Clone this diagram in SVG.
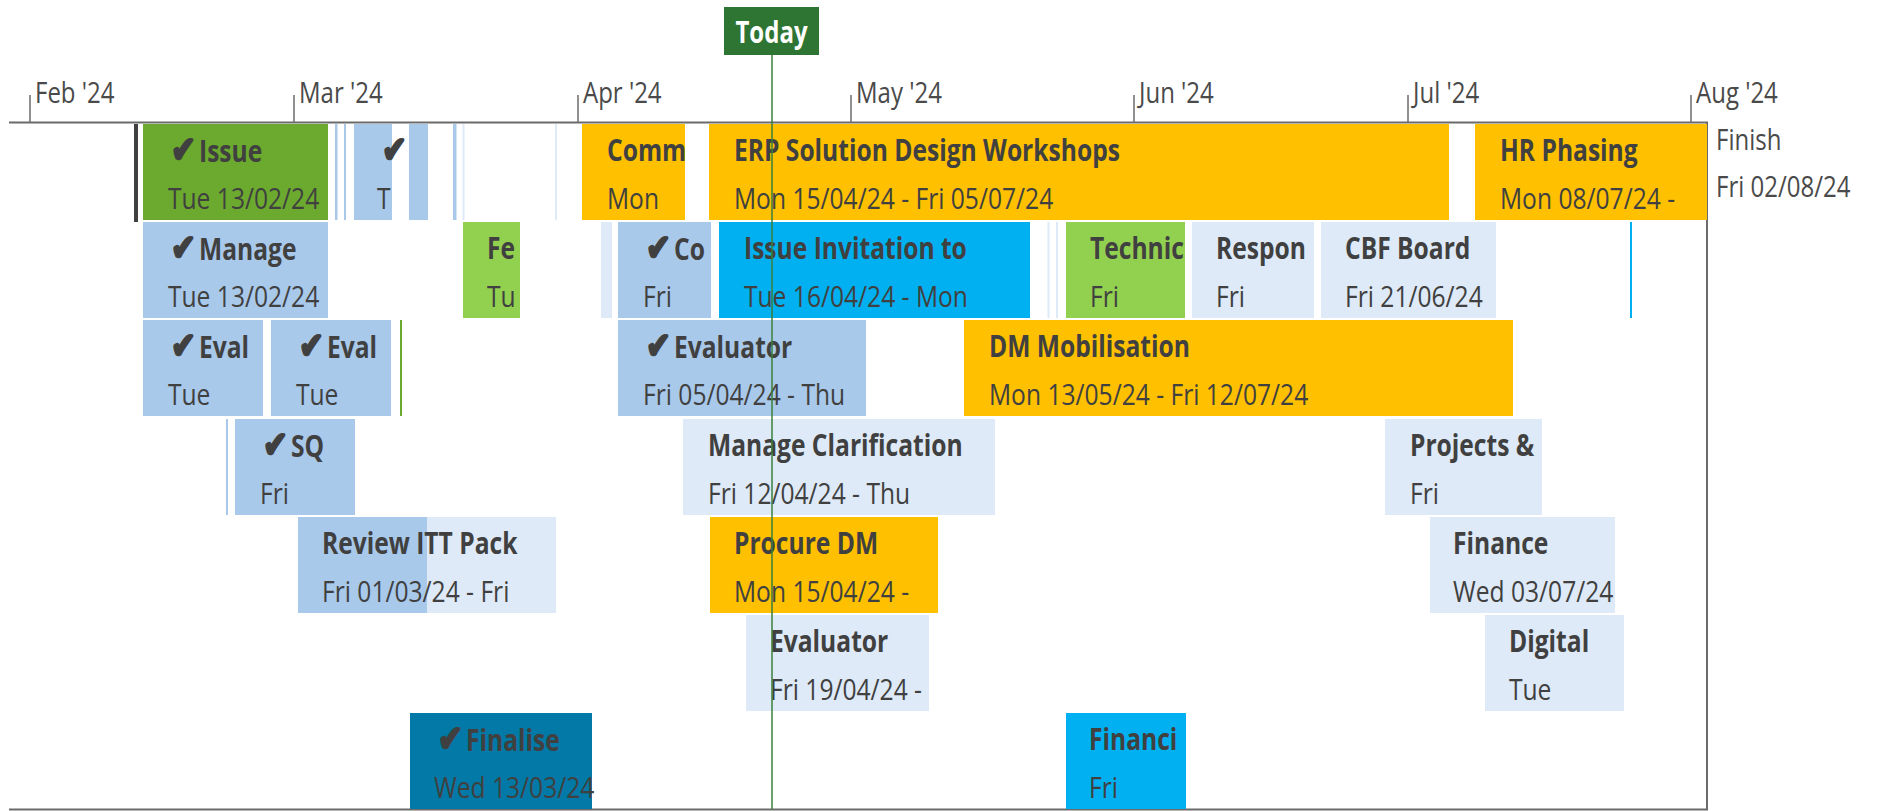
<svg xmlns="http://www.w3.org/2000/svg" width="1877" height="811" viewBox="0 0 1877 811">
  <style>
    text { font-family: "Open Sans", "DejaVu Sans", sans-serif; fill: #404040; }
    .ttl { font-size: 30px; font-weight: 700; }
    .dt { font-size: 30px; font-weight: 400; }
    .chk { font-family: "DejaVu Sans", sans-serif; font-size: 36px; font-weight: 700; stroke: #404040; stroke-width: 2.6; stroke-linejoin: round; }
    .axis-lbl { font-size: 30px; font-weight: 400; fill: #4a4a4a; }
    .frame { stroke: #6b6b6b; stroke-width: 2; fill: none; }
    .tick { stroke: #6b6b6b; stroke-width: 1.5; }
    .orange { fill: #FFC000; }
    .green { fill: #6BAA2E; }
    .lgreen { fill: #92D050; }
    .lblue { fill: #A9C9EB; }
    .vlblue { fill: #DEEAF7; }
    .cyan { fill: #00B0F0; }
    .teal { fill: #0279A6; }
  </style>

  <!-- month scale -->
  <g id="axis">
    <line class="frame" x1="9" y1="122.5" x2="1708" y2="122.5"/>
    <line class="tick" x1="30" y1="95" x2="30" y2="122"/>
    <line class="tick" x1="294" y1="95" x2="294" y2="122"/>
    <line class="tick" x1="578" y1="95" x2="578" y2="122"/>
    <line class="tick" x1="851" y1="95" x2="851" y2="122"/>
    <line class="tick" x1="1134" y1="95" x2="1134" y2="122"/>
    <line class="tick" x1="1408" y1="95" x2="1408" y2="122"/>
    <line class="tick" x1="1691" y1="95" x2="1691" y2="122"/>
    <text class="axis-lbl" transform="translate(35,103) scale(.8,1)">Feb '24</text>
    <text class="axis-lbl" transform="translate(299,103) scale(.8,1)">Mar '24</text>
    <text class="axis-lbl" transform="translate(583,103) scale(.8,1)">Apr '24</text>
    <text class="axis-lbl" transform="translate(856,103) scale(.8,1)">May '24</text>
    <text class="axis-lbl" transform="translate(1139,103) scale(.8,1)">Jun '24</text>
    <text class="axis-lbl" transform="translate(1413,103) scale(.8,1)">Jul '24</text>
    <text class="axis-lbl" transform="translate(1696,103) scale(.8,1)">Aug '24</text>
  </g>

  <!-- chart frame -->
  <g id="frame">
    <line class="frame" x1="1707" y1="122" x2="1707" y2="810"/>
    <line class="frame" x1="9" y1="809.5" x2="1708" y2="809.5"/>
  </g>

  <!-- finish marker -->
  <g id="finish">
    <text class="axis-lbl" transform="translate(1716,150) scale(.8,1)">Finish</text>
    <text class="axis-lbl" transform="translate(1716,197) scale(.8,1)">Fri 02/08/24</text>
  </g>

  <!-- short tasks too narrow for labels -->
  <g id="slivers">
    <rect x="134" y="124" width="4" height="98" fill="#404040"/>
    <rect class="lblue" x="335" y="124" width="2.5" height="96"/>
    <rect class="lblue" x="344" y="124" width="2" height="96"/>
    <rect class="lblue" x="409" y="124" width="19" height="96"/>
    <rect class="lblue" x="453" y="124" width="3.5" height="96"/>
    <rect class="vlblue" x="462.5" y="124" width="2" height="96"/>
    <rect class="vlblue" x="555" y="124" width="2" height="96"/>
    <rect class="vlblue" x="601" y="222" width="11" height="96"/>
    <rect class="vlblue" x="1047.5" y="222" width="2" height="96"/>
    <rect class="vlblue" x="1056" y="222" width="2" height="96"/>
    <rect class="cyan" x="1630" y="222" width="2" height="96"/>
    <rect class="green" x="400" y="320" width="2" height="96"/>
    <rect class="lblue" x="226" y="419" width="2" height="96"/>
  </g>

  <!-- row 1 -->
  <g id="n-issue" transform="translate(143,124)">
    <rect class="green" width="185" height="96"/>
    <text class="ttl" transform="translate(28,38) scale(.82,1)"><tspan class="chk">✔</tspan><tspan dx="4">Issue</tspan></text>
    <text class="dt" transform="translate(25,85) scale(.82,1)">Tue 13/02/24</text>
  </g>
  <g id="n-t" transform="translate(354,124)">
    <rect class="lblue" width="38" height="96"/>
    <text class="ttl" transform="translate(28,38) scale(.82,1)"><tspan class="chk">✔</tspan></text>
    <text class="dt" transform="translate(23,85) scale(.82,1)">T</text>
  </g>
  <g id="n-comm" transform="translate(582,124)">
    <rect class="orange" width="103" height="96"/>
    <text class="ttl" transform="translate(25,37) scale(.82,1)">Comm</text>
    <text class="dt" transform="translate(25,85) scale(.82,1)">Mon</text>
  </g>
  <g id="n-erp" transform="translate(709,124)">
    <rect class="orange" width="740" height="96"/>
    <text class="ttl" transform="translate(25,37) scale(.82,1)">ERP Solution Design Workshops</text>
    <text class="dt" transform="translate(25,85) scale(.82,1)">Mon 15/04/24 - Fri 05/07/24</text>
  </g>
  <g id="n-hr" transform="translate(1475,124)">
    <rect class="orange" width="232" height="96"/>
    <text class="ttl" transform="translate(25,37) scale(.82,1)">HR Phasing</text>
    <text class="dt" transform="translate(25,85) scale(.82,1)">Mon 08/07/24 -</text>
  </g>

  <!-- row 2 -->
  <g id="n-manage" transform="translate(143,222)">
    <rect class="lblue" width="185" height="96"/>
    <text class="ttl" transform="translate(28,38) scale(.82,1)"><tspan class="chk">✔</tspan><tspan dx="4">Manage</tspan></text>
    <text class="dt" transform="translate(25,85) scale(.82,1)">Tue 13/02/24</text>
  </g>
  <g id="n-fe" transform="translate(463,222)">
    <rect class="lgreen" width="57" height="96"/>
    <text class="ttl" transform="translate(24,37) scale(.82,1)">Fe</text>
    <text class="dt" transform="translate(24,85) scale(.82,1)">Tu</text>
  </g>
  <g id="n-co" transform="translate(618,222)">
    <rect class="lblue" width="93" height="96"/>
    <text class="ttl" transform="translate(28,38) scale(.82,1)"><tspan class="chk">✔</tspan><tspan dx="4">Co</tspan></text>
    <text class="dt" transform="translate(25,85) scale(.82,1)">Fri</text>
  </g>
  <g id="n-invite" transform="translate(719,222)">
    <rect class="cyan" width="311" height="96"/>
    <text class="ttl" transform="translate(25,37) scale(.82,1)">Issue Invitation to</text>
    <text class="dt" transform="translate(25,85) scale(.82,1)">Tue 16/04/24 - Mon</text>
  </g>
  <g id="n-technic" transform="translate(1066,222)">
    <rect class="lgreen" width="119" height="96"/>
    <text class="ttl" transform="translate(24,37) scale(.82,1)">Technic</text>
    <text class="dt" transform="translate(24,85) scale(.82,1)">Fri</text>
  </g>
  <g id="n-respon" transform="translate(1192,222)">
    <rect class="vlblue" width="122" height="96"/>
    <text class="ttl" transform="translate(24,37) scale(.82,1)">Respon</text>
    <text class="dt" transform="translate(24,85) scale(.82,1)">Fri</text>
  </g>
  <g id="n-cbf" transform="translate(1321,222)">
    <rect class="vlblue" width="175" height="96"/>
    <text class="ttl" transform="translate(24,37) scale(.82,1)">CBF Board</text>
    <text class="dt" transform="translate(24,85) scale(.82,1)">Fri 21/06/24</text>
  </g>

  <!-- row 3 -->
  <g id="n-eval1" transform="translate(143,320)">
    <rect class="lblue" width="120" height="96"/>
    <text class="ttl" transform="translate(28,38) scale(.82,1)"><tspan class="chk">✔</tspan><tspan dx="4">Eval</tspan></text>
    <text class="dt" transform="translate(25,85) scale(.82,1)">Tue</text>
  </g>
  <g id="n-eval2" transform="translate(271,320)">
    <rect class="lblue" width="120" height="96"/>
    <text class="ttl" transform="translate(28,38) scale(.82,1)"><tspan class="chk">✔</tspan><tspan dx="4">Eval</tspan></text>
    <text class="dt" transform="translate(25,85) scale(.82,1)">Tue</text>
  </g>
  <g id="n-evaluator1" transform="translate(618,320)">
    <rect class="lblue" width="248" height="96"/>
    <text class="ttl" transform="translate(28,38) scale(.82,1)"><tspan class="chk">✔</tspan><tspan dx="4">Evaluator</tspan></text>
    <text class="dt" transform="translate(25,85) scale(.82,1)">Fri 05/04/24 - Thu</text>
  </g>
  <g id="n-dm-mob" transform="translate(964,320)">
    <rect class="orange" width="549" height="96"/>
    <text class="ttl" transform="translate(25,37) scale(.82,1)">DM Mobilisation</text>
    <text class="dt" transform="translate(25,85) scale(.82,1)">Mon 13/05/24 - Fri 12/07/24</text>
  </g>

  <!-- row 4 -->
  <g id="n-sq" transform="translate(235,419)">
    <rect class="lblue" width="120" height="96"/>
    <text class="ttl" transform="translate(28,38) scale(.82,1)"><tspan class="chk">✔</tspan><tspan dx="4">SQ</tspan></text>
    <text class="dt" transform="translate(25,85) scale(.82,1)">Fri</text>
  </g>
  <g id="n-clarify" transform="translate(683,419)">
    <rect class="vlblue" width="312" height="96"/>
    <text class="ttl" transform="translate(25,37) scale(.82,1)">Manage Clarification</text>
    <text class="dt" transform="translate(25,85) scale(.82,1)">Fri 12/04/24 - Thu</text>
  </g>
  <g id="n-projects" transform="translate(1385,419)">
    <rect class="vlblue" width="157" height="96"/>
    <text class="ttl" transform="translate(25,37) scale(.82,1)">Projects &amp;</text>
    <text class="dt" transform="translate(25,85) scale(.82,1)">Fri</text>
  </g>

  <!-- row 5 -->
  <g id="n-review" transform="translate(298,517)">
    <rect class="vlblue" width="258" height="96"/>
    <rect class="lblue" width="129" height="96"/>
    <text class="ttl" transform="translate(24,37) scale(.82,1)">Review ITT Pack</text>
    <text class="dt" transform="translate(24,85) scale(.82,1)">Fri 01/03/24 - Fri</text>
  </g>
  <g id="n-procure" transform="translate(710,517)">
    <rect class="orange" width="228" height="96"/>
    <text class="ttl" transform="translate(24,37) scale(.82,1)">Procure DM</text>
    <text class="dt" transform="translate(24,85) scale(.82,1)">Mon 15/04/24 -</text>
  </g>
  <g id="n-finance" transform="translate(1430,517)">
    <rect class="vlblue" width="185" height="96"/>
    <text class="ttl" transform="translate(23,37) scale(.82,1)">Finance</text>
    <text class="dt" transform="translate(23,85) scale(.82,1)">Wed 03/07/24</text>
  </g>

  <!-- row 6 -->
  <g id="n-evaluator2" transform="translate(746,615)">
    <rect class="vlblue" width="183" height="96"/>
    <text class="ttl" transform="translate(24,37) scale(.82,1)">Evaluator</text>
    <text class="dt" transform="translate(24,85) scale(.82,1)">Fri 19/04/24 -</text>
  </g>
  <g id="n-digital" transform="translate(1485,615)">
    <rect class="vlblue" width="139" height="96"/>
    <text class="ttl" transform="translate(24,37) scale(.82,1)">Digital</text>
    <text class="dt" transform="translate(24,85) scale(.82,1)">Tue</text>
  </g>

  <!-- row 7 -->
  <g id="n-finalise" transform="translate(410,713)">
    <rect class="teal" width="182" height="96"/>
    <text class="ttl" transform="translate(28,38) scale(.82,1)"><tspan class="chk">✔</tspan><tspan dx="4">Finalise</tspan></text>
    <text class="dt" transform="translate(24,85) scale(.82,1)">Wed 13/03/24</text>
  </g>
  <g id="n-financi" transform="translate(1066,713)">
    <rect class="cyan" width="120" height="96"/>
    <text class="ttl" transform="translate(23,37) scale(.82,1)">Financi</text>
    <text class="dt" transform="translate(23,85) scale(.82,1)">Fri</text>
  </g>

  <g id="connectors"/>

  <!-- today marker, drawn over the bars -->
  <g id="today">
    <line x1="772" y1="55" x2="772" y2="809" stroke="#3A7F3A" stroke-width="1.5"/>
    <rect x="724" y="7" width="95" height="48" fill="#2E7432"/>
    <text transform="translate(771.5,43) scale(.8,1)" text-anchor="middle" font-size="30" font-weight="700" style="fill:#ffffff">Today</text>
  </g>
</svg>
